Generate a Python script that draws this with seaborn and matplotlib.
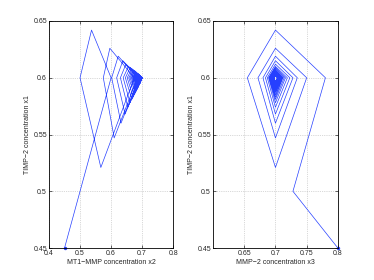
import pandas as pd
import matplotlib
matplotlib.use("Agg")
import matplotlib.pyplot as plt
import seaborn as sns

# start of the trajectory (first two iterations)
start_x1 = [0.45, 0.50]
start_x2 = [0.45, 0.50]
start_x3 = [0.80, 0.728]

# one loop per cycle: right vertex, top vertex, left vertex, bottom vertex
x1_top = [0.642, 0.626, 0.619, 0.615, 0.612, 0.610, 0.609, 0.608, 0.607, 0.606, 0.606, 0.605,
          0.605, 0.604, 0.604, 0.604, 0.603, 0.603, 0.603, 0.603, 0.602, 0.602, 0.602, 0.602]
x1_mid = 0.6
x1_bottom = [0.521, 0.547, 0.560, 0.568, 0.574, 0.578, 0.581, 0.583, 0.585, 0.587, 0.588, 0.589,
             0.590, 0.591, 0.592, 0.593, 0.593, 0.594, 0.594, 0.595, 0.595, 0.595, 0.596, 0.596]

x2_right = [0.600, 0.675, 0.685, 0.690, 0.693, 0.695, 0.696, 0.697, 0.697, 0.698, 0.698, 0.698,
            0.699, 0.699, 0.699, 0.699, 0.699, 0.699, 0.700, 0.700, 0.700, 0.700, 0.700, 0.700]
x2_top = [0.537, 0.596, 0.623, 0.638, 0.648, 0.656, 0.662, 0.667, 0.671, 0.674, 0.677, 0.679,
          0.681, 0.683, 0.684, 0.686, 0.687, 0.688, 0.689, 0.690, 0.691, 0.691, 0.692, 0.692]
x2_left = [0.500, 0.575, 0.602, 0.618, 0.630, 0.639, 0.646, 0.652, 0.657, 0.661, 0.665, 0.668,
           0.671, 0.673, 0.675, 0.677, 0.679, 0.681, 0.682, 0.684, 0.685, 0.686, 0.687, 0.688]
x2_bottom = [0.567, 0.610, 0.632, 0.645, 0.654, 0.661, 0.667, 0.671, 0.675, 0.678, 0.680, 0.682,
             0.684, 0.686, 0.687, 0.688, 0.689, 0.690, 0.691, 0.692, 0.693, 0.693, 0.694, 0.694]

x3_right = [0.780, 0.750, 0.735, 0.728, 0.723, 0.719, 0.716, 0.714, 0.712, 0.711, 0.710, 0.709,
            0.708, 0.707, 0.707, 0.706, 0.706, 0.705, 0.705, 0.704, 0.704, 0.704, 0.703, 0.703]
x3_mid = 0.7
x3_left = [0.655, 0.672, 0.680, 0.684, 0.687, 0.689, 0.690, 0.691, 0.692, 0.693, 0.694, 0.694,
           0.695, 0.695, 0.696, 0.696, 0.696, 0.697, 0.697, 0.697, 0.697, 0.698, 0.698, 0.698]

# build the full trajectory
x1, x2, x3 = list(start_x1), list(start_x2), list(start_x3)
for k in range(len(x1_top)):
    x1 += [x1_mid, x1_top[k], x1_mid, x1_bottom[k]]
    x2 += [x2_right[k], x2_top[k], x2_left[k], x2_bottom[k]]
    x3 += [x3_right[k], x3_mid, x3_left[k], x3_mid]
df = pd.DataFrame({"x1": x1, "x2": x2, "x3": x3})

sns.set_style("ticks")
plt.rcParams["font.family"] = ["Liberation Sans", "DejaVu Sans"]
plt.rcParams["font.size"] = 5

fig = plt.figure(figsize=(3.74, 2.8), dpi=100)
ax1 = fig.add_axes([0.131, 0.114, 0.332, 0.811])
ax2 = fig.add_axes([0.5695, 0.114, 0.334, 0.811])

line_color = (0.15, 0.25, 1.0)
sns.lineplot(data=df, x="x2", y="x1", sort=False, estimator=None, ax=ax1,
             color=line_color, linewidth=0.5)
sns.scatterplot(x=[x2[0]], y=[x1[0]], ax=ax1, color=line_color, s=6, linewidth=0, clip_on=False)
sns.lineplot(data=df, x="x3", y="x1", sort=False, estimator=None, ax=ax2,
             color=line_color, linewidth=0.5)
sns.scatterplot(x=[x3[0]], y=[x1[0]], ax=ax2, color=line_color, s=6, linewidth=0, clip_on=False)

ax1.set_xlim(0.4, 0.8)
ax1.set_xticks([0.4, 0.5, 0.6, 0.7, 0.8])
ax1.set_xticklabels(["0.4", "0.5", "0.6", "0.7", "0.8"])
ax1.set_xlabel("MT1\u2212MMP concentration x2", labelpad=1)

ax2.set_xlim(0.6, 0.8)
ax2.set_xticks([0.65, 0.7, 0.75, 0.8])
ax2.set_xticklabels(["0.65", "0.7", "0.75", "0.8"])
ax2.set_xlabel("MMP\u22122 concentration x3", labelpad=1)

for ax in (ax1, ax2):
    ax.set_ylim(0.45, 0.65)
    ax.set_yticks([0.45, 0.5, 0.55, 0.6, 0.65])
    ax.set_yticklabels(["0.45", "0.5", "0.55", "0.6", "0.65"])
    ax.set_ylabel("TIMP\u22122 concentration x1", labelpad=2)
    ax.grid(True, linestyle=":", color="#b4b4b4", linewidth=0.5)
    ax.tick_params(direction="in", length=2.5, width=0.5, pad=1.5,
                   top=True, right=True, labelsize=5)
    for s in ax.spines.values():
        s.set_visible(True)
        s.set_linewidth(0.6)
        s.set_color("black")
    ax.set_facecolor("white")

fig.savefig("out.png", dpi=100)
